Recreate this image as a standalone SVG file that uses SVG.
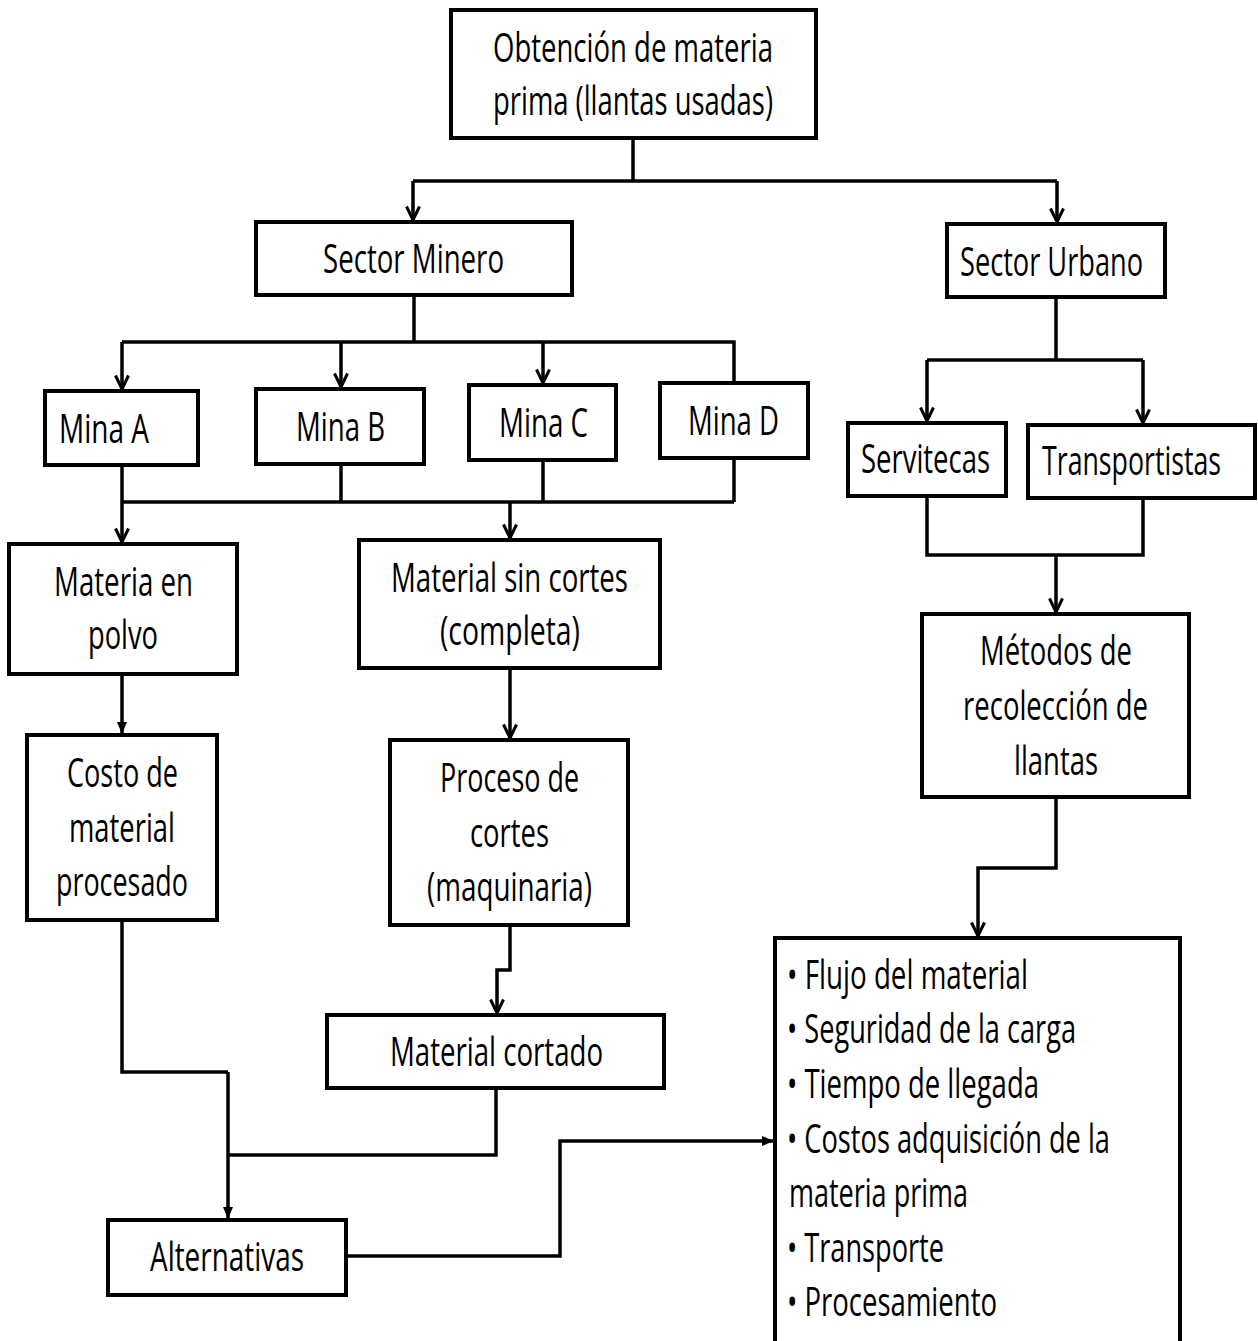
<svg xmlns="http://www.w3.org/2000/svg" width="1258" height="1341" viewBox="0 0 1258 1341">
  <style>
    .box { fill: #ffffff; stroke: #000000; stroke-width: 4; }
    .lbl { font-family: "Open Sans", "Liberation Sans", sans-serif; font-size: 40px; fill: #000000; }
    .wire { fill: none; stroke: #000000; stroke-width: 3.5; stroke-linejoin: miter; }
  </style>
  <defs>
    <marker id="vee" viewBox="0 0 16 16" refX="15" refY="8" markerWidth="16" markerHeight="16" markerUnits="userSpaceOnUse" orient="auto">
      <path d="M1.5,1.5 L15,8 L1.5,14.5" fill="none" stroke="#000" stroke-width="3"/>
    </marker>
    <marker id="tri" viewBox="0 0 12 12" refX="11" refY="6" markerWidth="12" markerHeight="12" markerUnits="userSpaceOnUse" orient="auto">
      <path d="M0,1 L12,6 L0,11 Z" fill="#000"/>
    </marker>
  </defs>
  <rect width="1258" height="1341" fill="#ffffff"/>

  <!-- connectors -->
  <g id="connectors">
    <path class="wire" d="M633,138 V181"/>
    <path class="wire" d="M413,181 H1057"/>
    <path class="wire" d="M413,181 V220" marker-end="url(#vee)"/>
    <path class="wire" d="M1057,181 V222" marker-end="url(#vee)"/>

    <path class="wire" d="M414,295 V342"/>
    <path class="wire" d="M122,342 H734 V383"/>
    <path class="wire" d="M122,342 V389" marker-end="url(#vee)"/>
    <path class="wire" d="M341,342 V387" marker-end="url(#vee)"/>
    <path class="wire" d="M543,342 V383" marker-end="url(#vee)"/>

    <path class="wire" d="M122,465 V502"/>
    <path class="wire" d="M341,464 V502"/>
    <path class="wire" d="M543,460 V502"/>
    <path class="wire" d="M734,458 V502"/>
    <path class="wire" d="M122,502 H734"/>
    <path class="wire" d="M122,502 V542" marker-end="url(#vee)"/>
    <path class="wire" d="M510,502 V538" marker-end="url(#vee)"/>

    <path class="wire" d="M122,674 V733" marker-end="url(#tri)"/>
    <path class="wire" d="M510,668 V738" marker-end="url(#vee)"/>
    <path class="wire" d="M510,925 V970 H497 V1013" marker-end="url(#vee)"/>

    <path class="wire" d="M122,920 V1072 H228"/>
    <path class="wire" d="M496,1088 V1155 H228"/>
    <path class="wire" d="M228,1072 V1218" marker-end="url(#tri)"/>
    <path class="wire" d="M346,1256 H560 V1141 H773" marker-end="url(#tri)"/>

    <path class="wire" d="M1056,297 V360"/>
    <path class="wire" d="M927,360 H1143"/>
    <path class="wire" d="M927,360 V421" marker-end="url(#vee)"/>
    <path class="wire" d="M1143,360 V423" marker-end="url(#vee)"/>
    <path class="wire" d="M927,496 V555 H1143 V498"/>
    <path class="wire" d="M1056,555 V612" marker-end="url(#vee)"/>
    <path class="wire" d="M1056,797 V868 H978 V936" marker-end="url(#vee)"/>
  </g>

  <!-- nodes -->
  <g id="n-obtencion">
    <rect class="box" x="451" y="10" width="365" height="128"/>
    <text class="lbl" x="493" y="62" textLength="280" lengthAdjust="spacingAndGlyphs">Obtención de materia</text>
    <text class="lbl" x="493" y="115" textLength="280" lengthAdjust="spacingAndGlyphs">prima (llantas usadas)</text>
  </g>
  <g id="n-minero">
    <rect class="box" x="256" y="222" width="316" height="73"/>
    <text class="lbl" x="323" y="273" textLength="181" lengthAdjust="spacingAndGlyphs">Sector Minero</text>
  </g>
  <g id="n-urbano">
    <rect class="box" x="947" y="224" width="218" height="73"/>
    <text class="lbl" x="960" y="276" textLength="183" lengthAdjust="spacingAndGlyphs">Sector Urbano</text>
  </g>
  <g id="n-mina-a">
    <rect class="box" x="45" y="391" width="153" height="74"/>
    <text class="lbl" x="59" y="443" textLength="90" lengthAdjust="spacingAndGlyphs">Mina A</text>
  </g>
  <g id="n-mina-b">
    <rect class="box" x="256" y="389" width="168" height="75"/>
    <text class="lbl" x="296" y="441" textLength="89" lengthAdjust="spacingAndGlyphs">Mina B</text>
  </g>
  <g id="n-mina-c">
    <rect class="box" x="469" y="385" width="147" height="75"/>
    <text class="lbl" x="499" y="437" textLength="89" lengthAdjust="spacingAndGlyphs">Mina C</text>
  </g>
  <g id="n-mina-d">
    <rect class="box" x="660" y="383" width="148" height="75"/>
    <text class="lbl" x="688" y="435" textLength="91" lengthAdjust="spacingAndGlyphs">Mina D</text>
  </g>
  <g id="n-servitecas">
    <rect class="box" x="848" y="423" width="158" height="73"/>
    <text class="lbl" x="861" y="473" textLength="129" lengthAdjust="spacingAndGlyphs">Servitecas</text>
  </g>
  <g id="n-transportistas">
    <rect class="box" x="1028" y="425" width="227" height="73"/>
    <text class="lbl" x="1042" y="475" textLength="179" lengthAdjust="spacingAndGlyphs">Transportistas</text>
  </g>
  <g id="n-polvo">
    <rect class="box" x="9" y="544" width="228" height="130"/>
    <text class="lbl" x="54" y="596" textLength="139" lengthAdjust="spacingAndGlyphs">Materia en</text>
    <text class="lbl" x="88" y="649" textLength="70" lengthAdjust="spacingAndGlyphs">polvo</text>
  </g>
  <g id="n-sin-cortes">
    <rect class="box" x="359" y="540" width="301" height="128"/>
    <text class="lbl" x="391" y="592" textLength="237" lengthAdjust="spacingAndGlyphs">Material sin cortes</text>
    <text class="lbl" x="440" y="645" textLength="140" lengthAdjust="spacingAndGlyphs">(completa)</text>
  </g>
  <g id="n-metodos">
    <rect class="box" x="922" y="614" width="267" height="183"/>
    <text class="lbl" x="980" y="665" textLength="152" lengthAdjust="spacingAndGlyphs">Métodos de</text>
    <text class="lbl" x="963" y="720" textLength="185" lengthAdjust="spacingAndGlyphs">recolección de</text>
    <text class="lbl" x="1014" y="775" textLength="84" lengthAdjust="spacingAndGlyphs">llantas</text>
  </g>
  <g id="n-costo">
    <rect class="box" x="27" y="735" width="190" height="185"/>
    <text class="lbl" x="67" y="787" textLength="111" lengthAdjust="spacingAndGlyphs">Costo de</text>
    <text class="lbl" x="69" y="842" textLength="106" lengthAdjust="spacingAndGlyphs">material</text>
    <text class="lbl" x="56" y="896" textLength="132" lengthAdjust="spacingAndGlyphs">procesado</text>
  </g>
  <g id="n-proceso">
    <rect class="box" x="390" y="740" width="238" height="185"/>
    <text class="lbl" x="440" y="792" textLength="139" lengthAdjust="spacingAndGlyphs">Proceso de</text>
    <text class="lbl" x="470" y="847" textLength="79" lengthAdjust="spacingAndGlyphs">cortes</text>
    <text class="lbl" x="427" y="901" textLength="165" lengthAdjust="spacingAndGlyphs">(maquinaria)</text>
  </g>
  <g id="n-cortado">
    <rect class="box" x="327" y="1015" width="337" height="73"/>
    <text class="lbl" x="390" y="1066" textLength="213" lengthAdjust="spacingAndGlyphs">Material cortado</text>
  </g>
  <g id="n-alternativas">
    <rect class="box" x="108" y="1220" width="238" height="75"/>
    <text class="lbl" x="150" y="1271" textLength="154" lengthAdjust="spacingAndGlyphs">Alternativas</text>
  </g>
  <g id="n-factores">
    <rect class="box" x="775" y="938" width="405" height="410"/>
    <text class="lbl" x="787" y="989" textLength="241" lengthAdjust="spacingAndGlyphs">• Flujo del material</text>
    <text class="lbl" x="787" y="1043" textLength="289" lengthAdjust="spacingAndGlyphs">• Seguridad de la carga</text>
    <text class="lbl" x="787" y="1098" textLength="252" lengthAdjust="spacingAndGlyphs">• Tiempo de llegada</text>
    <text class="lbl" x="787" y="1153" textLength="323" lengthAdjust="spacingAndGlyphs">• Costos adquisición de la</text>
    <text class="lbl" x="789" y="1207" textLength="179" lengthAdjust="spacingAndGlyphs">materia prima</text>
    <text class="lbl" x="787" y="1262" textLength="157" lengthAdjust="spacingAndGlyphs">• Transporte</text>
    <text class="lbl" x="787" y="1316" textLength="210" lengthAdjust="spacingAndGlyphs">• Procesamiento</text>
  </g>
</svg>
